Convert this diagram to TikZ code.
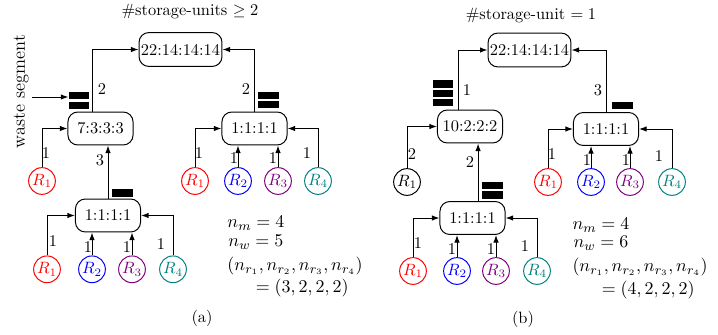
\documentclass[tikz,border=0pt]{standalone}
\usetikzlibrary{arrows.meta}
\begin{document}
\begin{tikzpicture}[x=0.61pt,y=-0.61pt,
  line width=0.6pt,
  box/.style={draw,rounded corners=6pt,minimum width=39.7pt,minimum height=20.1pt,inner sep=0pt},
  topbox/.style={box,minimum width=50.6pt,minimum height=20.7pt},
  rnode/.style={draw,circle,minimum size=16.3pt,inner sep=0pt},
  bar/.style={fill=black,minimum width=12.3pt,minimum height=4.3pt,inner sep=0pt},
  arr/.style={-{Latex[length=4.6pt,width=3.3pt]}},
  lbl/.style={inner sep=0pt},
  txt/.style={inner sep=0pt},
  mtxt/.style={inner sep=0pt,font=\fontsize{11}{13}\selectfont}]
\useasboundingbox (0,0) rectangle (718,334);

% ---------------- panel (a) ----------------
\node[txt] (titleA) at (190,11) {\#storage-units $\geq 2$};
\node[topbox] (topA) at (180.5,49.5) {22:14:14:14};
\node[box] (n7) at (100.5,128.5) {7:3:3:3};
\node[box] (ar) at (254.5,128.5) {1:1:1:1};
\node[box] (ab) at (108,215.5) {1:1:1:1};

\node[txt,rotate=90,font=\fontsize{11.2}{13}\selectfont] (waste) at (21,91.5) {waste segment};
\coordinate (wstart) at (32,97);
\node[bar] (barA1) at (79,95.5) {};
\node[bar] (barA2) at (79,105.2) {};
\node[bar] (barA3) at (268.5,95.3) {};
\node[bar] (barA4) at (268.5,104.7) {};
\node[bar] (barA5) at (122.5,193) {};
\draw[arr] (wstart) -- (wstart -| barA1.west);

\node[rnode,red] (r1a) at (42,181) {$R_1$};
\node[rnode,red] (ar1) at (195,181) {$R_1$};
\node[rnode,blue] (ar2) at (238,181) {$R_2$};
\node[rnode,violet] (ar3) at (278,181) {$R_3$};
\node[rnode,teal] (ar4) at (318,181) {$R_4$};
\node[rnode,red] (ab1) at (47,269.3) {$R_1$};
\node[rnode,blue] (ab2) at (92,269.3) {$R_2$};
\node[rnode,violet] (ab3) at (132,269.3) {$R_3$};
\node[rnode,teal] (ab4) at (173,269.3) {$R_4$};

\coordinate (n7o) at ([xshift=-4.6pt]n7.north);
\draw[arr] (n7o) |- (topA.west);
\draw[arr] (ar.north) |- (topA.east);
\draw[arr] (r1a.north) |- (n7.west);
\draw[arr] (ab.north) -- (ab.north |- n7.south);
\draw[arr] (ar1.north) |- (ar.west);
\draw[arr] (ar2.north) -- (ar2.north |- ar.south);
\draw[arr] (ar3.north) -- (ar3.north |- ar.south);
\draw[arr] (ar4.north) |- (ar.east);
\draw[arr] (ab1.north) |- (ab.west);
\draw[arr] (ab2.north) -- (ab2.north |- ab.south);
\draw[arr] (ab3.north) -- (ab3.north |- ab.south);
\draw[arr] (ab4.north) |- (ab.east);

\node[lbl] (la1) at (102,89) {2};
\node[lbl] (la2) at (246,89) {2};
\node[lbl] (la3) at (46,153) {1};
\node[lbl] (la4) at (100,160) {3};
\node[lbl] (la5) at (199,153) {1};
\node[lbl] (la6) at (234,158) {1};
\node[lbl] (la7) at (273,158) {1};
\node[lbl] (la8) at (307,153) {1};
\node[lbl] (la9) at (53,241) {1};
\node[lbl] (la10) at (88,247) {1};
\node[lbl] (la11) at (127,247) {1};
\node[lbl] (la12) at (161,244) {1};

\node[mtxt,anchor=west] (ma1) at (227,223) {$n_m = 4$};
\node[mtxt,anchor=west] (ma2) at (228,242) {$n_w = 5$};
\node[mtxt,anchor=west] (ma3) at (227,266) {$(n_{r_1},n_{r_2},n_{r_3},n_{r_4})$};
\node[mtxt,anchor=east] (ma4) at (349,288) {$=(3,2,2,2)$};
\node[txt] (capA) at (202,318) {(a)};

% ---------------- panel (b) ----------------
\node[txt] (titleB) at (531,15) {\#storage-unit $= 1$};
\node[topbox] (topB) at (529.5,50) {22:14:14:14};
\node[box] (n10) at (470,126.5) {10:2:2:2};
\node[box] (br) at (606,129) {1:1:1:1};
\node[box] (bb) at (472.5,218) {1:1:1:1};

\node[bar] (barB1) at (442.7,84) {};
\node[bar] (barB2) at (442.7,93.3) {};
\node[bar] (barB3) at (442.7,102.6) {};
\node[bar] (barB4) at (622.5,105.7) {};
\node[bar] (barB5) at (492.5,185.8) {};
\node[bar] (barB6) at (492.5,195) {};

\node[rnode] (r1b) at (407,182) {$R_1$};
\node[rnode,red] (br1) at (548,182) {$R_1$};
\node[rnode,blue] (br2) at (591,182) {$R_2$};
\node[rnode,violet] (br3) at (630,182) {$R_3$};
\node[rnode,teal] (br4) at (672,182) {$R_4$};
\node[rnode,red] (bb1) at (413,271) {$R_1$};
\node[rnode,blue] (bb2) at (457,271) {$R_2$};
\node[rnode,violet] (bb3) at (496,271) {$R_3$};
\node[rnode,teal] (bb4) at (537,271) {$R_4$};

\coordinate (n10o) at ([xshift=-7.3pt]n10.north);
\coordinate (bbo) at ([xshift=3.4pt]bb.north);
\draw[arr] (n10o) |- (topB.west);
\draw[arr] (br.north) |- (topB.east);
\draw[arr] (r1b.north) |- (n10.west);
\draw[arr] (bbo) -- (bbo |- n10.south);
\draw[arr] (br1.north) |- (br.west);
\draw[arr] (br2.north) -- (br2.north |- br.south);
\draw[arr] (br3.north) -- (br3.north |- br.south);
\draw[arr] (br4.north) |- (br.east);
\draw[arr] (bb1.north) |- (bb.west);
\draw[arr] (bb2.north) -- (bb2.north |- bb.south);
\draw[arr] (bb3.north) -- (bb3.north |- bb.south);
\draw[arr] (bb4.north) |- (bb.east);

\node[lbl] (lb1) at (467,90) {1};
\node[lbl] (lb2) at (598,90) {3};
\node[lbl] (lb3) at (412,154) {2};
\node[lbl] (lb4) at (470,162) {2};
\node[lbl] (lb5) at (552,154) {1};
\node[lbl] (lb6) at (587,160) {1};
\node[lbl] (lb7) at (626,160) {1};
\node[lbl] (lb8) at (659,156) {1};
\node[lbl] (lb9) at (418,243) {1};
\node[lbl] (lb10) at (452,249) {1};
\node[lbl] (lb11) at (491,249) {1};
\node[lbl] (lb12) at (525,246) {1};

\node[mtxt,anchor=west] (mb1) at (572,225) {$n_m = 4$};
\node[mtxt,anchor=west] (mb2) at (573,243) {$n_w = 6$};
\node[mtxt,anchor=west] (mb3) at (572,267) {$(n_{r_1},n_{r_2},n_{r_3},n_{r_4})$};
\node[mtxt,anchor=east] (mb4) at (695,290) {$=(4,2,2,2)$};
\node[txt] (capB) at (523,319) {(b)};
\end{tikzpicture}
\end{document}
